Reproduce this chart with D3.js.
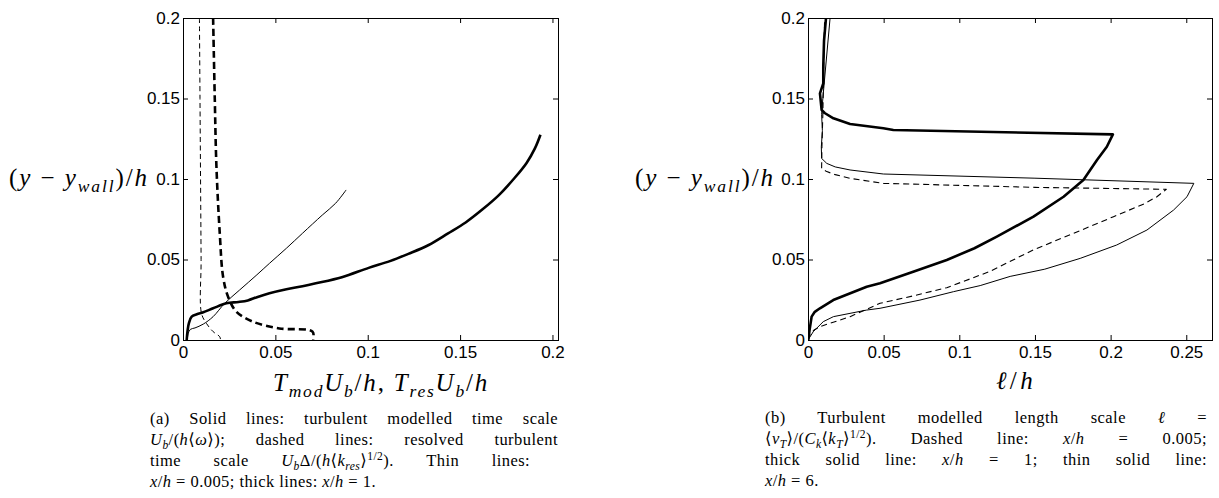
<!DOCTYPE html>
<html>
<head>
<meta charset="utf-8">
<script src="https://cdn.jsdelivr.net/npm/d3@7"></script>
<style>
  body { margin: 0; background: #fff; }
  svg text { fill: #000; }
</style>
</head>
<body>
<svg id="fig" width="1219" height="498"></svg>
<script>
// ---- tick values and labels ----
const yTicks = [0, 0.05, 0.1, 0.15, 0.2];
const yTickLabels = ["0", "0.05", "0.1", "0.15", "0.2"];
const xTicksA = [0, 0.05, 0.1, 0.15, 0.2];
const xTickLabelsA = ["0", "0.05", "0.1", "0.15", "0.2"];
const xTicksB = [0, 0.05, 0.1, 0.15, 0.2, 0.25];
const xTickLabelsB = ["0", "0.05", "0.1", "0.15", "0.2", "0.25"];

// ---- (a) time scales, [value, (y - ywall)/h] ----
const timeModThin = [[0.0023,0.0],[0.0028,0.004],[0.0040,0.0066],[0.0065,0.0075],[0.011,0.0099],[0.0163,0.0145],[0.0226,0.0228],[0.0306,0.031],[0.040,0.0405],[0.0468,0.0476],[0.056,0.057],[0.0647,0.0663],[0.0754,0.0776],[0.0826,0.0849],[0.0883,0.0932]];
const timeModThick = [[0.002,0.0],[0.0025,0.006],[0.0032,0.0105],[0.0047,0.0145],[0.0075,0.016],[0.011,0.0172],[0.0163,0.0197],[0.0235,0.0228],[0.030,0.0236],[0.0351,0.0246],[0.040,0.0266],[0.0468,0.029],[0.056,0.0315],[0.0647,0.0334],[0.0719,0.0352],[0.086,0.039],[0.1005,0.0448],[0.112,0.049],[0.122,0.0535],[0.133,0.059],[0.1435,0.0662],[0.153,0.073],[0.162,0.081],[0.171,0.09],[0.179,0.1],[0.186,0.11],[0.1905,0.119],[0.1935,0.1275]];
const timeResThin = [[0.0089,0.2],[0.0092,0.15],[0.0095,0.1],[0.0098,0.05],[0.0100,0.0166],[0.0127,0.0103],[0.0163,0.0052],[0.0199,0.002],[0.0203,0.0]];
const timeResThick = [[0.0163,0.2],[0.0172,0.15],[0.0181,0.1077],[0.0199,0.0663],[0.0217,0.0393],[0.0244,0.0269],[0.0289,0.0176],[0.0378,0.0114],[0.0522,0.0072],[0.0701,0.0052],[0.0705,0.0]];

// ---- (b) modelled length scale, [l/h, (y - ywall)/h] ----
const lengthX0005 = [[0.0,0.0],[0.0013,0.0031],[0.0040,0.0062],[0.0079,0.0083],[0.0278,0.0145],[0.0476,0.0228],[0.07,0.0275],[0.0917,0.0325],[0.12,0.0425],[0.149,0.056],[0.18,0.068],[0.2019,0.0766],[0.222,0.0845],[0.2306,0.089],[0.2368,0.0936],[0.15,0.0948],[0.0498,0.0973],[0.0278,0.1004],[0.018,0.1027],[0.0124,0.1046],[0.009,0.1066],[0.0092,0.12],[0.0098,0.14],[0.0102,0.16],[0.0105,0.18],[0.011,0.2]];
const lengthX1 = [[0.0002,0.0],[0.001,0.006],[0.0024,0.0145],[0.0045,0.0175],[0.0079,0.0197],[0.0167,0.0248],[0.0388,0.0331],[0.0476,0.0352],[0.07,0.0425],[0.0917,0.0497],[0.11,0.057],[0.1248,0.0642],[0.149,0.0766],[0.1689,0.089],[0.182,0.0994],[0.191,0.1118],[0.1975,0.12],[0.2015,0.1277],[0.0564,0.1304],[0.0498,0.1315],[0.0278,0.1342],[0.0168,0.1377],[0.011,0.141],[0.009,0.143],[0.0079,0.1532],[0.0101,0.1594],[0.0101,0.17],[0.0106,0.186],[0.0119,0.2]];
const lengthX6 = [[0.0,0.0],[0.0035,0.0052],[0.0101,0.0114],[0.0168,0.0145],[0.0388,0.0186],[0.0476,0.0197],[0.074,0.0248],[0.0961,0.03],[0.1138,0.0338],[0.1336,0.0395],[0.1565,0.044],[0.1799,0.0507],[0.204,0.059],[0.224,0.0683],[0.2416,0.0807],[0.2505,0.089],[0.255,0.0973],[0.15,0.1005],[0.0498,0.1031],[0.0278,0.1056],[0.018,0.1075],[0.0124,0.1097],[0.009,0.1128],[0.0088,0.12],[0.0095,0.13],[0.009,0.14],[0.0098,0.15],[0.0146,0.2]];

// ---- captions: [text, style] runs; styles r = roman, i = italic, subi = italic subscript, sup = superscript ----
const captionA = [
  [["(a) Solid lines: turbulent modelled time scale","r"]],
  [["U","i"],["b","subi"],["/(","r"],["h","i"],["⟨","r"],["ω","i"],["⟩); dashed lines: resolved turbulent","r"]],
  [["time scale ","r"],["U","i"],["b","subi"],["Δ/(","r"],["h","i"],["⟨","r"],["k","i"],["res","subi"],["⟩","r"],["1/2","sup"],[").  Thin lines:","r"]],
  [["x","i"],["/","r"],["h","i"],[" = 0.005; thick lines: ","r"],["x","i"],["/","r"],["h","i"],[" = 1.","r"]]
];
const captionB = [
  [["(b) Turbulent modelled length scale ","r"],["ℓ","i"],[" =","r"]],
  [["⟨","r"],["ν","i"],["T","subi"],["⟩/(","r"],["C","i"],["k","subi"],["⟨","r"],["k","i"],["T","subi"],["⟩","r"],["1/2","sup"],["). Dashed line: ","r"],["x","i"],["/","r"],["h","i"],[" = 0.005;","r"]],
  [["thick solid line: ","r"],["x","i"],["/","r"],["h","i"],[" = 1; thin solid line:","r"]],
  [["x","i"],["/","r"],["h","i"],[" = 6.","r"]]
];

// ---- axis labels ----
const xLabelA = [["T","i"],["mod","subi"],["U","i"],["b","subi"],["/","r"],["h","i"],[", ","r"],["T","i"],["res","subi"],["U","i"],["b","subi"],["/","r"],["h","i"]];
const xLabelB = [["ℓ","i"],["/","r"],["h","i"]];
const yLabel = [["(","r"],["y","i"],[" − ","r"],["y","i"],["wall","subi"],[")/","r"],["h","i"]];

const svg = d3.select("#fig");
const serif = "'Liberation Serif', 'DejaVu Serif', serif";
const sans = "'Liberation Sans', Arial, sans-serif";

// Writes styled runs into a text element, shifting sub/superscripts with dy.
function writeRuns(textSel, runs, size) {
  let offset = 0;
  runs.forEach(([t, s]) => {
    let target = 0, fs = size, italic = false;
    if (s === "i") italic = true;
    if (s === "subi") { italic = true; target = size * 0.22; fs = size * 0.7; }
    if (s === "sup") { target = -size * 0.36; fs = size * 0.7; }
    textSel.append("tspan")
      .attr("dy", target - offset)
      .attr("font-size", fs)
      .attr("font-style", italic ? "italic" : "normal")
      .text(t);
    offset = target;
  });
}

// Math-style label, lightly spaced out to a given width.
function mathLabel(g, runs, cx, baseline, width) {
  const t = g.append("text").attr("x", cx).attr("y", baseline)
    .attr("text-anchor", "middle").attr("font-family", serif);
  writeRuns(t, runs, 25);
  const w = t.node().getComputedTextLength();
  const n = runs.map(r => r[0]).join("").length;
  t.attr("letter-spacing", Math.max(0, (width - w) / n));
}

function drawPanel(cfg) {
  const x = d3.scaleLinear().domain(cfg.xDomain).range([cfg.left, cfg.right]);
  const y = d3.scaleLinear().domain([0, 0.2]).range([cfg.bottom, cfg.top]);
  const g = svg.append("g");

  const styleAxis = sel => {
    sel.select(".domain").remove();
    sel.selectAll(".tick line").attr("stroke", "#000").attr("stroke-width", 1);
    sel.selectAll("text").attr("font-family", sans).attr("font-size", 17).attr("fill", "#000");
  };

  g.append("g").attr("transform", `translate(0,${cfg.bottom})`)
    .call(d3.axisBottom(x).tickValues(cfg.xTicks).tickFormat((d, i) => cfg.xTickLabels[i])
      .tickSizeInner(-5).tickSizeOuter(0).tickPadding(6))
    .call(styleAxis);
  g.append("g").attr("transform", `translate(0,${cfg.top})`)
    .call(d3.axisTop(x).tickValues(cfg.xTicks).tickFormat("").tickSizeInner(-5).tickSizeOuter(0))
    .call(styleAxis);
  g.append("g").attr("transform", `translate(${cfg.left},0)`)
    .call(d3.axisLeft(y).tickValues(yTicks).tickFormat((d, i) => yTickLabels[i])
      .tickSizeInner(-5).tickSizeOuter(0).tickPadding(3))
    .call(styleAxis);
  g.append("g").attr("transform", `translate(${cfg.right},0)`)
    .call(d3.axisRight(y).tickValues(yTicks).tickFormat("").tickSizeInner(-5).tickSizeOuter(0))
    .call(styleAxis);

  g.append("rect")
    .attr("x", cfg.left + 0.5).attr("y", cfg.top + 0.5)
    .attr("width", cfg.right - cfg.left).attr("height", cfg.bottom - cfg.top)
    .attr("fill", "none").attr("stroke", "#000").attr("stroke-width", 1);

  const line = d3.line().x(d => x(d[0])).y(d => y(d[1])).curve(cfg.curve);
  const clipId = "clip" + cfg.name;
  svg.append("clipPath").attr("id", clipId).append("rect")
    .attr("x", cfg.left).attr("y", cfg.top - 1)
    .attr("width", cfg.right - cfg.left + 1).attr("height", cfg.bottom - cfg.top + 2);
  const plot = g.append("g").attr("clip-path", `url(#${clipId})`);
  cfg.series.forEach(s => {
    plot.append("path").datum(s.data)
      .attr("d", line)
      .attr("fill", "none")
      .attr("stroke", "#000")
      .attr("stroke-width", s.width)
      .attr("stroke-linejoin", "round")
      .attr("stroke-dasharray", s.dash || null);
  });

  // axis titles
  mathLabel(g, cfg.xLabel, cfg.xLabelX, cfg.xLabelY, cfg.xLabelW);
  mathLabel(g, yLabel, cfg.yLabelX, cfg.yLabelY, 140);

  // justified caption
  const lh = 21;
  cfg.caption.forEach((runs, i) => {
    const t = g.append("text").attr("x", cfg.capLeft).attr("y", cfg.capTop + i * lh)
      .attr("font-family", serif).attr("font-size", 16.5).attr("letter-spacing", 0.45);
    writeRuns(t, runs, 16.5);
    if (i < cfg.caption.length - 1) {
      const w = t.node().getComputedTextLength();
      const spaces = runs.map(r => r[0]).join("").split(" ").length - 1;
      if (spaces > 0) t.attr("word-spacing", (cfg.capWidth - w) / spaces);
    }
  });
}

drawPanel({
  name: "A", left: 183, right: 558, top: 18, bottom: 340, xDomain: [0, 0.203],
  xTicks: xTicksA, xTickLabels: xTickLabelsA, curve: d3.curveCatmullRom.alpha(0.5),
  series: [
    { data: timeModThin, width: 1 },
    { data: timeModThick, width: 2.6 },
    { data: timeResThin, width: 1, dash: "5,3.5" },
    { data: timeResThick, width: 2.6, dash: "7,4" }
  ],
  xLabel: xLabelA, xLabelX: 381, xLabelY: 391, xLabelW: 216,
  yLabelX: 79, yLabelY: 186,
  caption: captionA, capLeft: 150, capTop: 424, capWidth: 408
});

drawPanel({
  name: "B", left: 808, right: 1212, top: 18, bottom: 340, xDomain: [0, 0.267],
  xTicks: xTicksB, xTickLabels: xTickLabelsB, curve: d3.curveLinear,
  series: [
    { data: lengthX0005, width: 1.1, dash: "6,4" },
    { data: lengthX1, width: 2.6 },
    { data: lengthX6, width: 1 }
  ],
  xLabel: xLabelB, xLabelX: 1016, xLabelY: 389, xLabelW: 40,
  yLabelX: 705, yLabelY: 186,
  caption: captionB, capLeft: 765, capTop: 423, capWidth: 442
});
</script>
</body>
</html>
